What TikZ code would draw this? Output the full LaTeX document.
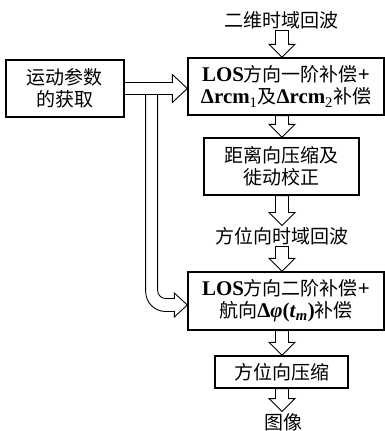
\documentclass[tikz,border=0pt]{standalone}
\usepackage{fontspec}
\setmainfont{Liberation Serif}[Scale=1.1]
\newfontfamily\cjk{Noto Sans CJK SC}
\usetikzlibrary{calc}
\newcommand\lat[1]{{\rmfamily\bfseries #1}}
\tikzset{
 box/.style={draw, line width=1.3pt, align=center, inner sep=0pt, font=\cjk\fontsize{19}{22}\selectfont},
 lbl/.style={inner sep=1.5pt, font=\cjk\fontsize{19}{22}\selectfont},
 fat/.style={draw, line width=0.9pt, line join=miter},
}
\newcommand\fatdown[2]{\draw[fat] let \p1=(#1), \p2=(#2) in (\x1-6.5pt,\y1) -- (\x1-6.5pt,\y2+13pt) -- (\x1-13pt,\y2+13pt) -- (\x1,\y2) -- (\x1+13pt,\y2+13pt) -- (\x1+6.5pt,\y2+13pt) -- (\x1+6.5pt,\y1) -- cycle;}
\begin{document}
\begin{tikzpicture}[x=1pt,y=-1pt]
\useasboundingbox (0,0) rectangle (385,431);
\coordinate (ax) at (282,0);
\node[lbl] (t1) at (281,20) {二维时域回波};
\node[box, minimum width=118pt, minimum height=57pt] (L) at (65,88.5) {运动参数\\的获取};
\node[box, minimum width=196pt, minimum height=57pt] (b1) at (286,86.5) {\lat{LOS}方向一阶补偿\lat{+}\\\lat{Δrcm{\mdseries\textsubscript{1}}}及\lat{Δrcm{\mdseries\textsubscript{2}}}补偿};
\node[box, minimum width=155pt, minimum height=57pt] (b2) at (281.5,166.5) {距离向压缩及\\徙动校正};
\node[lbl] (t2) at (282,236) {方位向时域回波};
\node[box, minimum width=196pt, minimum height=58pt] (b3) at (286,301) {\lat{LOS}方向二阶补偿\lat{+}\\航向\lat{Δ\textit{φ}(\textit{t}\textsubscript{\textit{m}})}补偿};
\node[box, minimum width=133pt, minimum height=32pt] (b4) at (281.5,372) {方位向压缩};
\node[lbl] (t3) at (283,422) {图像};
\fatdown{t1.south -| ax}{b1.north -| ax}
\fatdown{b1.south -| ax}{b2.north -| ax}
\fatdown{b2.south -| ax}{t2.north -| ax}
\fatdown{t2.south -| ax}{b3.north -| ax}
\fatdown{b3.south -| ax}{b4.north -| ax}
\fatdown{b4.south -| ax}{t3.north -| ax}
\draw[fat] let \p1=(L.east), \p2=(b1.west) in (\x1,\y1+6pt) -- (\x2-15pt,\y1+6pt) -- (\x2-15pt,\y1+14pt) -- (\x2,\y1) -- (\x2-15pt,\y1-14pt) -- (\x2-15pt,\y1-6pt) -- (\x1,\y1-6pt);
\draw[fat] let \p1=(L.east), \p3=($(b3.west)+(0,4)$) in (\x1+21pt,\y1-6pt) -- (\x1+33pt,\y1-6pt) -- (\x1+33pt,\y3+14.5pt) arc[start angle=180,end angle=270,radius=8pt] -- (\x3-13pt,\y3+6.5pt) -- (\x3-13pt,\y3+12pt) -- (\x3,\y3) -- (\x3-13pt,\y3-12pt) -- (\x3-13pt,\y3-6.5pt) -- (\x1+41pt,\y3-6.5pt) arc[start angle=270,end angle=180,radius=20pt] -- cycle;
\end{tikzpicture}
\end{document}
